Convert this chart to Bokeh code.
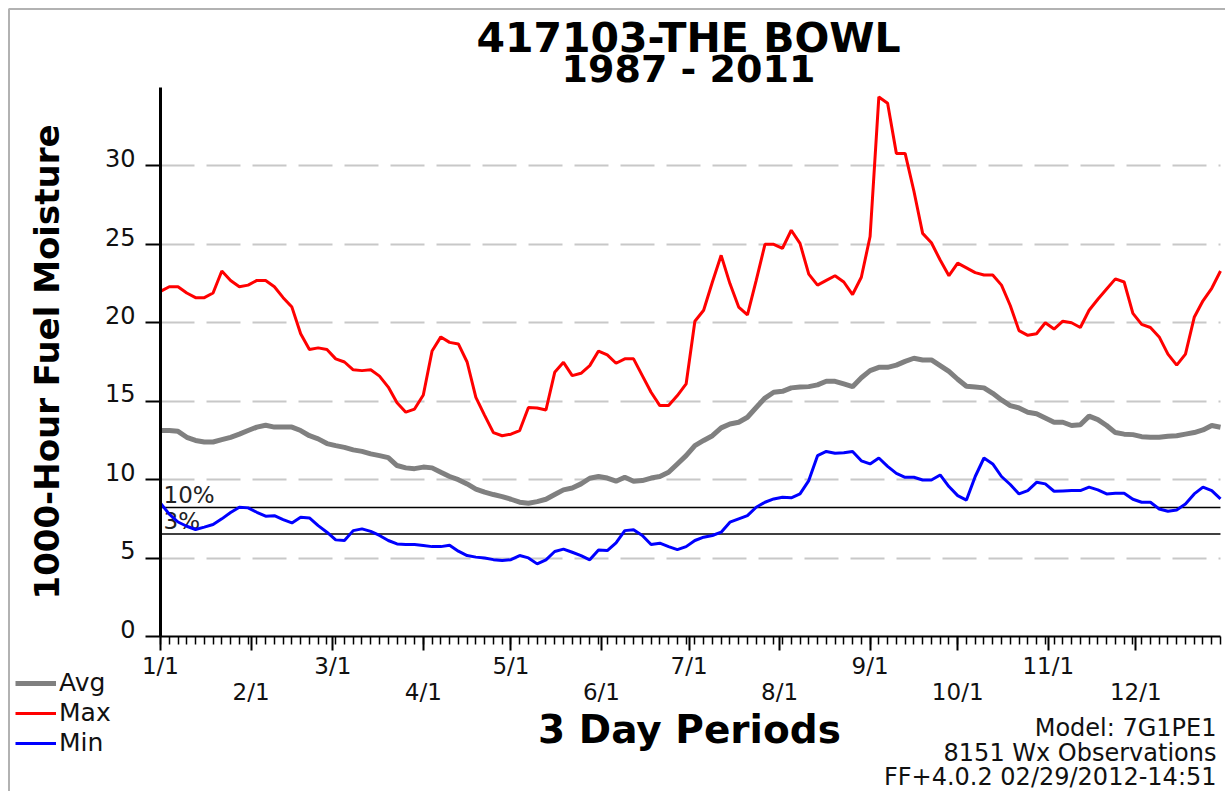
import math
from bokeh.plotting import figure
from bokeh.models import (Range1d, FixedTicker, LinearAxis, Label, Legend, LegendItem,
                          BoxAnnotation)
from bokeh.embed import file_html
from bokeh.resources import INLINE

FONT = "DejaVu Sans"

# ---------------- data ----------------
period_index = list(range(122))          # 3-day periods, 1/1 .. 12/29

avg_fm = [13.13, 13.13, 13.08, 12.7, 12.5, 12.4, 12.4, 12.55, 12.7, 12.9,
          13.13, 13.35, 13.47, 13.35, 13.35, 13.35, 13.13, 12.8, 12.6, 12.3,
          12.17, 12.06, 11.9, 11.8, 11.64, 11.53, 11.4, 10.9, 10.75, 10.7,
          10.8, 10.75, 10.47, 10.2, 10.0, 9.73, 9.4, 9.2, 9.05, 8.92,
          8.75, 8.56, 8.5, 8.6, 8.75, 9.05, 9.35, 9.47, 9.73, 10.09,
          10.2, 10.1, 9.9, 10.15, 9.9, 9.94, 10.1, 10.2, 10.47, 11.0,
          11.53, 12.17, 12.5, 12.8, 13.3, 13.55, 13.66, 13.98, 14.6, 15.2,
          15.57, 15.63, 15.85, 15.9, 15.93, 16.04, 16.27, 16.27, 16.1, 15.93,
          16.5, 16.95, 17.16, 17.16, 17.3, 17.54, 17.74, 17.63, 17.63, 17.27,
          16.9, 16.4, 15.95, 15.9, 15.85, 15.5, 15.08, 14.72, 14.57, 14.3,
          14.2, 13.93, 13.66, 13.66, 13.45, 13.5, 14.05, 13.83, 13.45, 13.0,
          12.9, 12.87, 12.74, 12.7, 12.7, 12.77, 12.8, 12.9, 13.0, 13.17,
          13.45, 13.34]

max_fm = [22.0, 22.3, 22.3, 21.9, 21.6, 21.6, 21.9, 23.3, 22.7, 22.3,
          22.4, 22.7, 22.7, 22.3, 21.6, 21.0, 19.3, 18.3, 18.4, 18.3,
          17.7, 17.5, 17.0, 16.95, 17.0, 16.6, 15.9, 14.9, 14.3, 14.5,
          15.4, 18.2, 19.1, 18.75, 18.65, 17.5, 15.25, 14.1, 13.0, 12.8,
          12.9, 13.13, 14.6, 14.57, 14.44, 16.84, 17.48, 16.63, 16.78, 17.27,
          18.2, 17.95, 17.42, 17.7, 17.7, 16.63, 15.57, 14.72, 14.72, 15.36,
          16.1, 20.1, 20.8, 22.6, 24.3, 22.5, 21.0, 20.5, 22.7, 25.0,
          25.0, 24.75, 25.9, 25.06, 23.1, 22.4, 22.7, 23.0, 22.6, 21.8,
          22.9, 25.5, 34.4, 34.0, 30.8, 30.8, 28.4, 25.7, 25.1, 24.0,
          23.0, 23.8, 23.5, 23.2, 23.05, 23.05, 22.4, 21.1, 19.5, 19.2,
          19.3, 20.0, 19.6, 20.1, 20.0, 19.7, 20.8, 21.5, 22.15, 22.8,
          22.6, 20.6, 19.9, 19.7, 19.1, 18.0, 17.3, 18.0, 20.35, 21.4,
          22.2, 23.3]

min_fm = [8.5, 7.8, 7.3, 7.03, 6.82, 6.97, 7.14, 7.5, 7.9, 8.24,
          8.2, 7.92, 7.67, 7.7, 7.45, 7.24, 7.6, 7.56, 7.07, 6.65,
          6.16, 6.12, 6.75, 6.86, 6.7, 6.44, 6.12, 5.9, 5.86, 5.86,
          5.8, 5.73, 5.73, 5.82, 5.44, 5.16, 5.06, 5.0, 4.9, 4.84,
          4.9, 5.16, 5.01, 4.63, 4.89, 5.42, 5.57, 5.37, 5.16, 4.89,
          5.52, 5.48, 5.97, 6.75, 6.8, 6.44, 5.86, 5.95, 5.73, 5.54,
          5.73, 6.12, 6.33, 6.44, 6.65, 7.29, 7.5, 7.71, 8.24, 8.56,
          8.77, 8.88, 8.84, 9.09, 9.94, 11.53, 11.8, 11.68, 11.72, 11.8,
          11.2, 11.0, 11.38, 10.85, 10.4, 10.15, 10.15, 9.98, 9.98, 10.3,
          9.56, 8.98, 8.7, 10.2, 11.38, 11.0, 10.2, 9.69, 9.09, 9.3,
          9.83, 9.73, 9.26, 9.28, 9.3, 9.3, 9.52, 9.35, 9.09, 9.13,
          9.13, 8.75, 8.56, 8.56, 8.13, 7.99, 8.07, 8.45, 9.09, 9.52,
          9.3, 8.77]

month_start_day = [0, 31, 59, 90, 120, 151, 181, 212, 243, 273, 304, 334]
month_labels = ["1/1", "2/1", "3/1", "4/1", "5/1", "6/1",
                "7/1", "8/1", "9/1", "10/1", "11/1", "12/1"]
y_ticks = [0, 5, 10, 15, 20, 25, 30]
pct_levels = [8.22, 6.53]
pct_labels = ["10%", "3%"]
legend_names = ["Avg", "Max", "Min"]
title_lines = ["417103-THE BOWL", "1987 - 2011"]
info_lines = ["Model: 7G1PE1", "8151 Wx Observations", "FF+4.0.2 02/29/2012-14:51"]
x_axis_title = "3 Day Periods"
y_axis_title = "1000-Hour Fuel Moisture"

days = [3 * i for i in period_index]

# ---------------- layout (page pixels) ----------------
W, H = 1225, 791
PLOT_L, PLOT_R = 160, 1220        # pixel x of day 0 and of the last period
PLOT_T, PLOT_B = 87, 636          # pixel y of value 35 and of value 0
XD0, XD1 = 0, days[-1]
YD0, YD1 = 0, 35
PXX = (PLOT_R - PLOT_L) / (XD1 - XD0)
PXY = (PLOT_B - PLOT_T) / (YD1 - YD0)


def dx(px):
    return XD0 + (px - PLOT_L) / PXX


def dy(py):
    return YD0 + (PLOT_B - py) / PXY


p = figure(width=W, height=H, x_range=Range1d(dx(0), dx(W)), y_range=Range1d(dy(H), dy(0)),
           toolbar_location=None, output_backend="svg", min_border=0, title=None)
p.outline_line_color = None
p.background_fill_color = "white"
p.border_fill_color = "white"

# image frame (left / top border of the original picture)
p.add_layout(BoxAnnotation(left=dx(8.5), right=dx(W + 50), top=dy(8.5), bottom=dy(H + 50),
                           fill_alpha=0, line_color="black", line_width=2))

# grid
p.xgrid.visible = False
p.ygrid.ticker = FixedTicker(ticks=y_ticks[1:])
p.ygrid.cross_bounds = (XD0, XD1)
p.ygrid.grid_line_color = "#c8c8c8"
p.ygrid.grid_line_width = 2
p.ygrid.grid_line_dash = "34 12"

# ---- y axis: line + ticks
ya = p.yaxis[0]
ya.fixed_location = XD0
ya.bounds = (YD0, YD1)
ya.ticker = FixedTicker(ticks=y_ticks)
ya.major_label_overrides = {t: "" for t in y_ticks}
ya.axis_line_width = 3
ya.axis_line_color = "black"
ya.major_tick_out = 15
ya.major_tick_in = 0
ya.major_tick_line_width = 2
ya.minor_tick_line_color = None

# ---- y axis tick labels (sit just above their tick, as in the original)
lab_shift = 0.5
yl = LinearAxis(fixed_location=XD0, bounds=(YD0, YD1),
                ticker=FixedTicker(ticks=[t + lab_shift for t in y_ticks]))
yl.major_label_overrides = {t + lab_shift: str(t) for t in y_ticks}
yl.axis_line_color = None
yl.major_tick_line_color = None
yl.minor_tick_line_color = None
yl.major_tick_out = 0
yl.major_tick_in = 0
yl.major_label_standoff = 25
yl.major_label_text_font = FONT
yl.major_label_text_font_size = "24px"
yl.major_label_text_color = "#111111"
p.add_layout(yl, "left")

# ---- x axis, ticks + first row of labels
xa = p.xaxis[0]
xa.fixed_location = YD0
xa.bounds = (XD0, XD1)
xa.ticker = FixedTicker(ticks=month_start_day, minor_ticks=days)
xa.major_label_overrides = {d: (lab if i % 2 == 0 else "") for i, (d, lab) in
                            enumerate(zip(month_start_day, month_labels))}
xa.axis_line_width = 2
xa.axis_line_color = "black"
xa.major_tick_out = 14
xa.major_tick_in = 0
xa.major_tick_line_width = 2
xa.minor_tick_out = 8
xa.minor_tick_in = 0
xa.minor_tick_line_width = 1.5
xa.major_label_text_font = FONT
xa.major_label_text_font_size = "23px"
xa.major_label_text_color = "#111111"
xa.major_label_standoff = 2

# ---- x axis, second (staggered) row of labels
xb = LinearAxis(fixed_location=YD0, bounds=(XD0, XD1),
                ticker=FixedTicker(ticks=month_start_day))
xb.major_label_overrides = {d: (lab if i % 2 == 1 else "") for i, (d, lab) in
                            enumerate(zip(month_start_day, month_labels))}
xb.axis_line_color = None
xb.major_tick_line_color = None
xb.minor_tick_line_color = None
xb.major_tick_out = 0
xb.major_tick_in = 0
xb.major_label_standoff = 42
xb.major_label_text_font = FONT
xb.major_label_text_font_size = "23px"
xb.major_label_text_color = "#111111"
p.add_layout(xb, "below")

# percentile reference lines
p.segment(x0=[XD0] * len(pct_levels), x1=[XD1] * len(pct_levels), y0=pct_levels,
          y1=pct_levels, line_color="black", line_width=1.5)
for lv, lab in zip(pct_levels, pct_labels):
    p.add_layout(Label(x=XD0, y=lv, x_offset=3, text=lab, text_baseline="bottom",
                       text_font=FONT, text_font_size="23px", text_color="#222222",
                       level="underlay"))

# series
r_avg = p.line(days, avg_fm, line_color="#808080", line_width=5)
r_max = p.line(days, max_fm, line_color="#ff0000", line_width=3)
r_min = p.line(days, min_fm, line_color="#0000ff", line_width=3)

legend = Legend(items=[LegendItem(label=n, renderers=[r]) for n, r in
                       zip(legend_names, [r_avg, r_max, r_min])],
                location=(15, H - 757), orientation="vertical",
                background_fill_alpha=0, border_line_color=None,
                padding=0, margin=0, spacing=1, glyph_width=41, glyph_height=20,
                label_height=20, label_standoff=3,
                label_text_font=FONT, label_text_font_size="25px",
                label_text_color="#111111")
p.add_layout(legend)

# axis titles
p.add_layout(Label(x=dx(46), y=dy((PLOT_T + PLOT_B) / 2), text=y_axis_title, angle=math.pi / 2,
                   text_align="center", text_baseline="middle", text_font=FONT,
                   text_font_size="34px", text_font_style="bold", text_color="black"))
p.add_layout(Label(x=dx(689), y=dy(729), text=x_axis_title, text_align="center",
                   text_baseline="middle", text_font=FONT, text_font_size="39px",
                   text_font_style="bold", text_color="black"))

# chart title (two lines)
for txt, ypx, fs in zip(title_lines, [37, 68], ["41px", "38px"]):
    p.add_layout(Label(x=dx(688), y=dy(ypx), text=txt, text_align="center",
                       text_baseline="middle", text_font=FONT, text_font_size=fs,
                       text_font_style="bold", text_color="black"))

# info block, bottom right
for txt, ypx in zip(info_lines, [727, 752, 776]):
    p.add_layout(Label(x=dx(1216), y=dy(ypx), text=txt, text_align="right",
                       text_baseline="middle", text_font=FONT, text_font_size="24px",
                       text_color="#111111"))

open("out.html", "w").write(file_html(p, INLINE))
